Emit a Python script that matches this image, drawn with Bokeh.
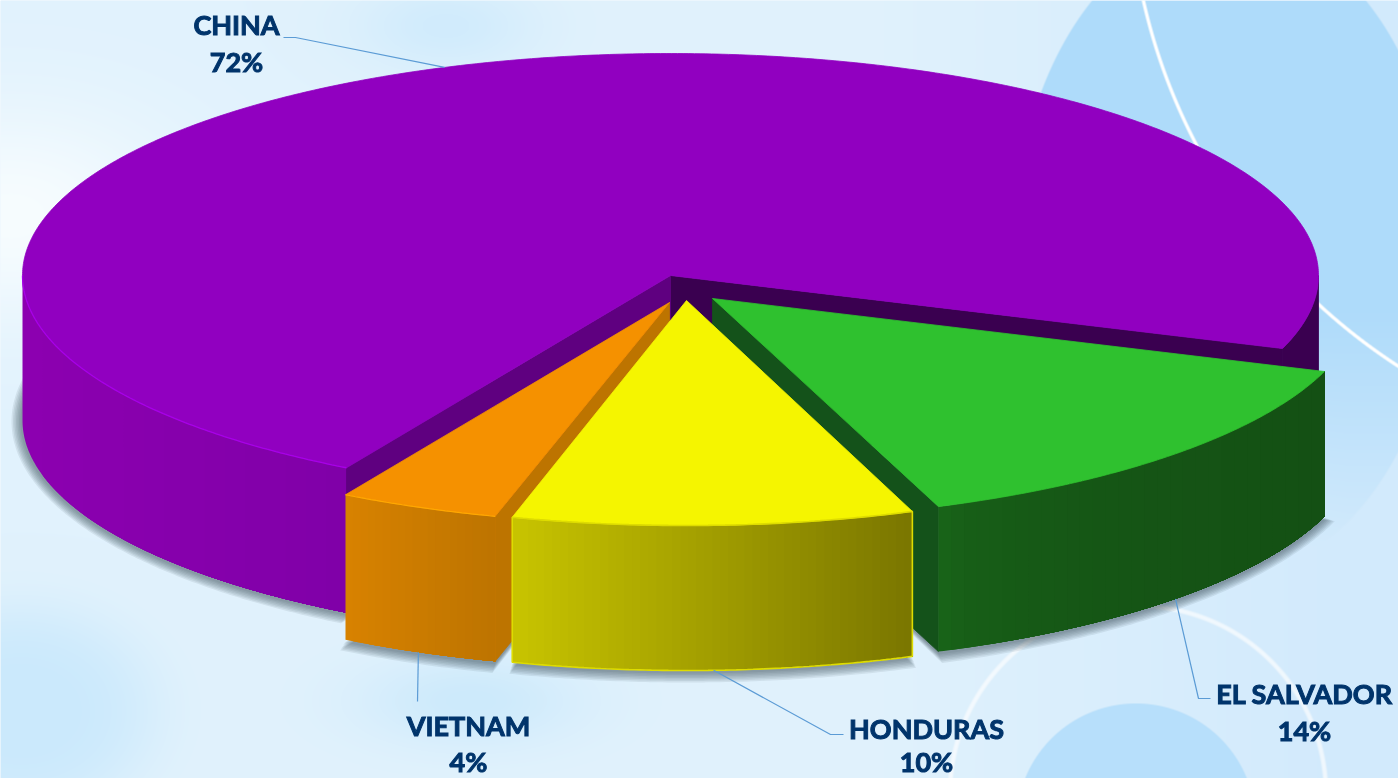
import numpy as np
from bokeh.plotting import figure
from bokeh.core.properties import value
from bokeh.embed import file_html
from bokeh.resources import INLINE

# ---- data -------------------------------------------------------------
categories = ["CHINA", "EL SALVADOR", "HONDURAS", "VIETNAM"]
percents = [72, 14, 10, 4]
top_colors = ["#9100C0", "#2FC12F", "#F5F500", "#F59100"]

# ---- layout / style ---------------------------------------------------
W, H = 1398, 778
RX, DEPTH = 648.0, 145.0
START = 120.0
radius_y = {"CHINA": 222.0, "EL SALVADOR": 222.0, "HONDURAS": 225.0, "VIETNAM": 222.0}
apex = {"CHINA": (670, 275), "EL SALVADOR": (712, 298), "HONDURAS": (686, 300), "VIETNAM": (669, 302)}
side_grad = {"CHINA": ("#8C00B0", "#8000A8", 1.0), "EL SALVADOR": ("#1A6B1A", "#145014", 0.3),
             "HONDURAS": ("#C8C400", "#7A7600", 1.0), "VIETNAM": ("#D88200", "#BD7400", 1.0)}
label_pos = {"CHINA": (236, 24, 61), "EL SALVADOR": (1304, 693, 730),
             "HONDURAS": (926, 728, 761), "VIETNAM": (468, 725, 761)}
elbow = {"CHINA": [(295, 37), (283, 37)], "EL SALVADOR": [(1198, 698), (1210, 698)],
         "HONDURAS": [(830, 734), (843, 734)], "VIETNAM": [(417, 701)]}
TEXT = "#00346B"
LEADER = "#5B9BD5"


def Y(y):
    return H - np.asarray(y, dtype=float)


def hexrgb(c):
    return np.array([int(c[i:i + 2], 16) for i in (1, 3, 5)], dtype=float)


def rgbhex(v):
    return "#%02X%02X%02X" % tuple(int(round(float(x))) for x in v)


# ---- background -------------------------------------------------------
yy, xx = np.mgrid[0:H, 0:W].astype(float)
bg = np.ones((H, W, 3)) * hexrgb("#E1F2FD")


def blend(col, a):
    global bg
    bg = bg * (1 - a[..., None]) + hexrgb(col) * a[..., None]


def gauss(cx, cy, sx, sy, power=2):
    return np.exp(-(((xx - cx) / sx) ** 2 + ((yy - cy) / sy) ** 2) ** (power / 2))


blend("#D2EAFC", np.clip((xx - 850) / 500, 0, 1))
blend("#F8FDFF", 0.95 * gauss(10, 215, 170, 110))
blend("#CAE9FC", 0.95 * gauss(20, 710, 135, 105, 4))
blend("#C8E8FB", 0.8 * gauss(470, 700, 110, 45))
blend("#CDEAFC", 0.8 * gauss(445, 25, 90, 45))
# large pale-blue ellipse, top right
d = np.sqrt(((xx - 1228) / 216) ** 2 + ((yy - 250) / 325) ** 2)
fade = np.clip((545 - yy) / 240, 0, 1)
blend("#AEDBFA", np.clip((1 - d) * 200, 0, 1) * fade)
# white arc, top right
d = np.abs(np.hypot(xx - 1718, yy + 130) - 590)
blend("#FFFFFF", np.clip(2.2 - d, 0, 1))
# lower circle arc and disc
d = np.abs(np.hypot(xx - 1137, yy - 793) - 188)
blend("#FFFFFF", 0.65 * np.clip((3.2 - d) / 2, 0, 1))
d = np.hypot(xx - 1135, yy - 822) - 120
blend("#B7DFFB", np.clip(-d, 0, 1))

rgba = np.dstack([np.clip(bg, 0, 255), np.full((H, W), 255.0)]).astype(np.uint8)[::-1]
img = np.frombuffer(rgba.tobytes(), dtype=np.uint32).reshape(H, W)

# ---- figure -----------------------------------------------------------
p = figure(width=W, height=H, x_range=(0, W), y_range=(0, H), output_backend="svg",
           toolbar_location=None, min_border=0, outline_line_color=None,
           background_fill_color="#E1F2FD", border_fill_color=None)
p.axis.visible = False
p.grid.visible = False
p.styles = {"position": "fixed", "left": "0", "top": "0"}
p.image_rgba(image=[img], x=0, y=0, dw=W, dh=H)

# ---- slice angles from the values -------------------------------------
angles = {}
a = START
for n, v in zip(categories, percents):
    angles[n] = (a, a + v * 3.6)
    a += v * 3.6


def rim(n, a1, a2, dz=0.0, grow=0.0, steps=None):
    cx, cy = apex[n]
    steps = steps or max(2, int(abs(a2 - a1) * 2) + 1)
    t = np.radians(np.linspace(a1, a2, steps))
    return cx + (RX + grow) * np.cos(t), cy + dz + (radius_y[n] + grow) * np.sin(t)


def poly(xs, ys, color, alpha=1.0, line=True):
    p.patch(list(xs), list(Y(ys)), fill_color=color, fill_alpha=alpha,
            line_color=color if line else None, line_alpha=alpha, line_width=0.8)


def side(n, a1, a2, strips=40):
    """outer wall, painted left to right: every band runs to the wall's right end,
    the next one overpaints it, so no seams show between bands"""
    c_left, c_right, g = side_grad[n]
    c_left, c_right = hexrgb(c_left), hexrgb(c_right)
    edges = np.degrees(np.arccos(np.linspace(np.cos(np.radians(a2)), np.cos(np.radians(a1)), strips + 1)))
    for i in range(strips):
        xs, ys = rim(n, edges[i], edges[-1])
        col = c_left + (c_right - c_left) * (((i + 0.5) / strips) ** g)
        poly(np.r_[xs, xs[::-1]], np.r_[ys, ys[::-1] + DEPTH], rgbhex(col), line=False)


def cut(n, ang, color):
    cx, cy = apex[n]
    xs, ys = rim(n, ang, ang, steps=2)
    x, y = xs[0], ys[0]
    poly([cx, x, x, cx], [cy, y, y + DEPTH, cy + DEPTH], color)


def top(n):
    cx, cy = apex[n]
    a1, a2 = angles[n]
    xs, ys = rim(n, a1, a2)
    poly(np.r_[cx, xs], np.r_[cy, ys], top_colors[categories.index(n)])


# ---- soft shadow under the pie ----------------------------------------
for grow in (11, 9.5, 8, 6.5, 5, 3.5, 2):
    for n in categories:
        a1, a2 = angles[n]
        if n == "CHINA":
            a2 = 205
        cx, cy = apex[n]
        xs, ys = rim(n, a1, a2, dz=DEPTH + 1, grow=grow)
        poly(np.r_[cx, xs], np.r_[cy + DEPTH, ys], "#3F4A55", alpha=0.1, line=False)

# ---- China --------------------------------------------------------------
a1, a2 = angles["CHINA"]
side("CHINA", a1, 180, strips=16)
xs, ys = rim("CHINA", 360, a2)
poly(np.r_[xs, xs[::-1]], np.r_[ys, ys[::-1] + DEPTH], "#3A0050")
cut("CHINA", a2, "#3A0050")
cut("CHINA", a1, "#5F0080")
top("CHINA")
xs, ys = rim("CHINA", a1, 180)
p.line(xs, Y(ys), line_color="#A800E8", line_width=1.3)

# ---- El Salvador --------------------------------------------------------
a1, a2 = angles["EL SALVADOR"]
cut("EL SALVADOR", a2, "#14521A")
side("EL SALVADOR", a1, a2, strips=30)
top("EL SALVADOR")

# ---- Vietnam ------------------------------------------------------------
a1, a2 = angles["VIETNAM"]
cut("VIETNAM", a1, "#BD7400")
side("VIETNAM", a1, a2, strips=20)
top("VIETNAM")
xs, ys = rim("VIETNAM", a1, a2)
p.line(xs, Y(ys), line_color="#FFA800", line_width=1.2)

# ---- Honduras -----------------------------------------------------------
a1, a2 = angles["HONDURAS"]
side("HONDURAS", a1, a2, strips=50)
top("HONDURAS")
xs, ys = rim("HONDURAS", a1, a2)
p.line(np.r_[xs[0], xs, xs[-1], xs[::-1], xs[0]],
       Y(np.r_[ys[0] + DEPTH, ys, ys[-1] + DEPTH, ys[::-1] + DEPTH, ys[0] + DEPTH]),
       line_color="#DEDC00", line_width=1.6)

# ---- leaders and labels -------------------------------------------------
for n, v in zip(categories, percents):
    a1, a2 = angles[n]
    mid = (a1 + a2) / 2
    xs, ys = rim(n, mid, mid, steps=2)
    sx, sy = xs[0], ys[0] + (0 if n == "CHINA" else DEPTH)
    lx = [sx] + [q[0] for q in elbow[n]]
    ly = [sy] + [q[1] for q in elbow[n]]
    p.line(lx, Y(ly), line_color=LEADER, line_width=1.2)
    x, y1, y2 = label_pos[n]
    for txt, yy_ in ((n, y1), (f"{v}%", y2)):
        p.text([x], [float(Y(yy_))], text=[txt], text_font=value("Lato"), text_font_style="bold",
               text_font_size="27px", text_color=TEXT, text_align="center", text_baseline="middle",
               text_outline_color=TEXT)

open("out.html", "w").write(file_html(p, INLINE))
